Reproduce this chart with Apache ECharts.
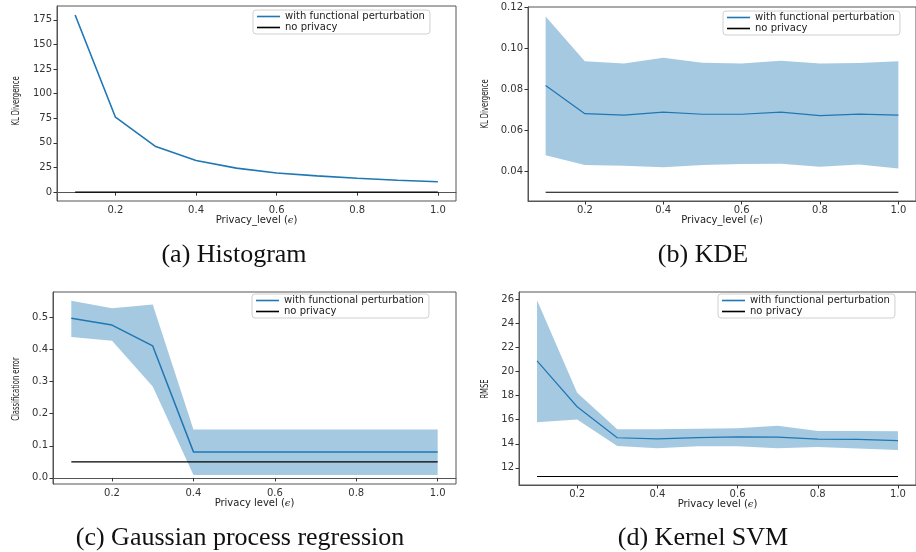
<!DOCTYPE html>
<html>
<head>
<meta charset="utf-8">
<script src="https://cdn.jsdelivr.net/npm/echarts@6.0.0/dist/echarts.min.js"></script>
<style>
html, body { margin: 0; background: #fff; }
#main { width: 916px; height: 552px; }
</style>
</head>
<body>
<div id="main"></div>
<script>
// privacy levels shared by all four panels
var eps = [0.1, 0.2, 0.3, 0.4, 0.5, 0.6, 0.7, 0.8, 0.9, 1.0];
var xTicks = [0.2, 0.4, 0.6, 0.8, 1.0];

// (a) Histogram
var histMean = [179.8, 76.1, 46.3, 32.2, 24.4, 19.5, 16.5, 14.1, 12.0, 10.6];
var histBase = [0, 0, 0, 0, 0, 0, 0, 0, 0, 0];
var histTicks = [0, 25, 50, 75, 100, 125, 150, 175];

// (b) KDE
var kdeMean = [0.0820, 0.0683, 0.0676, 0.0690, 0.0680, 0.0680, 0.0690, 0.0673, 0.0681, 0.0676];
var kdeHigh = [0.1157, 0.0938, 0.0927, 0.0956, 0.0931, 0.0928, 0.0941, 0.0927, 0.0930, 0.0938];
var kdeLow = [0.0480, 0.0432, 0.0429, 0.0421, 0.0432, 0.0437, 0.0439, 0.0424, 0.0435, 0.0416];
var kdeBase = [0.030, 0.030, 0.030, 0.030, 0.030, 0.030, 0.030, 0.030, 0.030, 0.030];
var kdeTicks = [0.04, 0.06, 0.08, 0.10, 0.12];

// (c) Gaussian process regression
var gprMean = [0.497, 0.476, 0.411, 0.081, 0.081, 0.081, 0.081, 0.081, 0.081, 0.081];
var gprHigh = [0.552, 0.528, 0.540, 0.151, 0.151, 0.151, 0.151, 0.151, 0.151, 0.151];
var gprLow = [0.439, 0.427, 0.285, 0.009, 0.009, 0.009, 0.009, 0.009, 0.009, 0.009];
var gprBase = [0.05, 0.05, 0.05, 0.05, 0.05, 0.05, 0.05, 0.05, 0.05, 0.05];
var gprTicks = [0.0, 0.1, 0.2, 0.3, 0.4, 0.5];

// (d) Kernel SVM
var svmMean = [20.9, 17.08, 14.5, 14.41, 14.52, 14.58, 14.55, 14.39, 14.36, 14.27];
var svmHigh = [25.94, 18.24, 15.2, 15.2, 15.25, 15.3, 15.5, 15.07, 15.07, 15.05];
var svmLow = [15.8, 16.03, 13.82, 13.63, 13.8, 13.8, 13.63, 13.74, 13.6, 13.49];
var svmBase = [11.28, 11.28, 11.28, 11.28, 11.28, 11.28, 11.28, 11.28, 11.28, 11.28];
var svmTicks = [12, 14, 16, 18, 20, 22, 24, 26];

var MEAN = 'with functional perturbation';
var BASE = 'no privacy';
var BLUE = '#1f77b4';
var TICK_FONT = '"DejaVu Sans", sans-serif';

var panels = [
    { grid: { left: 57, top: 6, width: 399, height: 195 }, ymin: -9, ymax: 189, yTicks: histTicks, digits: 0,
      yName: 'KL Divergence', ny: [16, 101], xName: 'Privacy_level', legend: { left: 253, top: 10 },
      mean: histMean, low: null, high: null, base: histBase, lw: 1.6,
      caption: '(a) Histogram', cx: 234, cy: 255 },
    { grid: { left: 528, top: 7, width: 395, height: 194 }, ymin: 0.0257, ymax: 0.1203, yTicks: kdeTicks, digits: 2,
      yName: 'KL Divergence', ny: [485, 104], xName: 'Privacy_level', legend: { left: 723, top: 11 },
      mean: kdeMean, low: kdeLow, high: kdeHigh, base: kdeBase, lw: 1.2,
      caption: '(b) KDE', cx: 703, cy: 255 },
    { grid: { left: 53, top: 292, width: 403, height: 192 }, ymin: -0.019, ymax: 0.579, yTicks: gprTicks, digits: 1,
      yName: 'Classification error', ny: [16, 389], xName: 'Privacy level', legend: { left: 252, top: 294 },
      mean: gprMean, low: gprLow, high: gprHigh, base: gprBase, lw: 1.5,
      caption: '(c) Gaussian process regression', cx: 240, cy: 538 },
    { grid: { left: 519, top: 292, width: 405, height: 193 }, ymin: 10.57, ymax: 26.63, yTicks: svmTicks, digits: 0,
      yName: 'RMSE', ny: [485, 389], xName: 'Privacy level', legend: { left: 718, top: 294 },
      mean: svmMean, low: svmLow, high: svmHigh, base: svmBase, lw: 1.2,
      caption: '(d) Kernel SVM', cx: 703, cy: 538 }
];

function pairs(ys) {
    return eps.map(function (x, i) { return [x, ys[i]]; });
}

var option = {
    animation: false,
    backgroundColor: '#fff',
    grid: [], xAxis: [], yAxis: [], legend: [], series: [], graphic: []
};

panels.forEach(function (p, k) {
    option.grid.push(Object.assign({ show: true, borderColor: '#555', borderWidth: 1, containLabel: false }, p.grid));

    option.xAxis.push({
        type: 'value', gridIndex: k, min: 0.055, max: 1.045,
        name: p.xName + ' ({e|ϵ})', nameLocation: 'middle', nameGap: 14,
        nameTextStyle: { fontSize: 10, fontFamily: TICK_FONT, color: '#222',
            rich: { e: { fontSize: 10, fontStyle: 'italic', fontFamily: '"DejaVu Serif", serif', color: '#222' } } },
        axisLine: { show: true, lineStyle: { color: '#555', width: 1 } },
        axisTick: { show: true, customValues: xTicks, length: 3.5, lineStyle: { color: '#333' } },
        axisLabel: { customValues: xTicks, fontSize: 10, fontFamily: TICK_FONT, color: '#333', margin: 4,
            formatter: function (v) { return v.toFixed(1); } },
        splitLine: { show: false }
    });

    option.yAxis.push({
        type: 'value', gridIndex: k, min: p.ymin, max: p.ymax,
        axisLine: { show: true, lineStyle: { color: '#555', width: 1 } },
        axisTick: { show: true, customValues: p.yTicks, length: 3.5, lineStyle: { color: '#333' } },
        axisLabel: { customValues: p.yTicks, fontSize: 10, fontFamily: TICK_FONT, color: '#333', margin: 5,
            formatter: function (v) { return v.toFixed(p.digits); } },
        splitLine: { show: false }
    });

    option.legend.push({
        left: p.legend.left, top: p.legend.top, orient: 'vertical',
        data: [MEAN, BASE], icon: 'rect', itemWidth: 23, itemHeight: 1.6, itemGap: 0,
        padding: [1, 5, 1, 4],
        backgroundColor: 'rgba(255,255,255,0.8)', borderColor: '#d0d0d0', borderWidth: 1, borderRadius: 3,
        textStyle: { fontSize: 10, fontFamily: TICK_FONT, color: '#222', lineHeight: 11 },
        selectedMode: false
    });

    if (p.low) {
        // shaded spread between the lower and upper curves, one polygon
        option.series.push({
            name: 'spread', type: 'custom', xAxisIndex: k, yAxisIndex: k, silent: true,
            data: eps.map(function (x, i) { return [x, p.low[i], p.high[i]]; }),
            encode: { x: 0, y: [1, 2] },
            renderItem: function (params, api) {
                if (params.dataIndex !== 0) return null;
                var pts = [];
                for (var i = 0; i < eps.length; i++) pts.push(api.coord([eps[i], p.high[i]]));
                for (var j = eps.length - 1; j >= 0; j--) pts.push(api.coord([eps[j], p.low[j]]));
                return { type: 'polygon', shape: { points: pts }, style: { fill: BLUE, opacity: 0.4 } };
            }
        });
    }

    option.series.push({
        name: MEAN, type: 'line', xAxisIndex: k, yAxisIndex: k,
        data: pairs(p.mean), showSymbol: false, color: BLUE,
        lineStyle: { color: BLUE, width: p.lw }
    });
    option.series.push({
        name: BASE, type: 'line', xAxisIndex: k, yAxisIndex: k,
        data: pairs(p.base), showSymbol: false, color: '#000',
        lineStyle: { color: '#000', width: 1.1 }
    });

    // condensed rotated y-axis title
    option.graphic.push({
        type: 'text', x: p.ny[0], y: p.ny[1], rotation: Math.PI / 2, scaleX: 0.68,
        style: { text: p.yName, fontSize: 10, fontFamily: TICK_FONT, fill: '#222',
            align: 'center', verticalAlign: 'middle' }
    });

    option.graphic.push({
        type: 'text', x: p.cx, y: p.cy,
        style: { text: p.caption, fontSize: 26, fontFamily: '"Liberation Serif", "DejaVu Serif", serif',
            fill: '#111', align: 'center', verticalAlign: 'middle' }
    });
});

var myChart = echarts.init(document.getElementById('main'));
myChart.setOption(option);
</script>
</body>
</html>
